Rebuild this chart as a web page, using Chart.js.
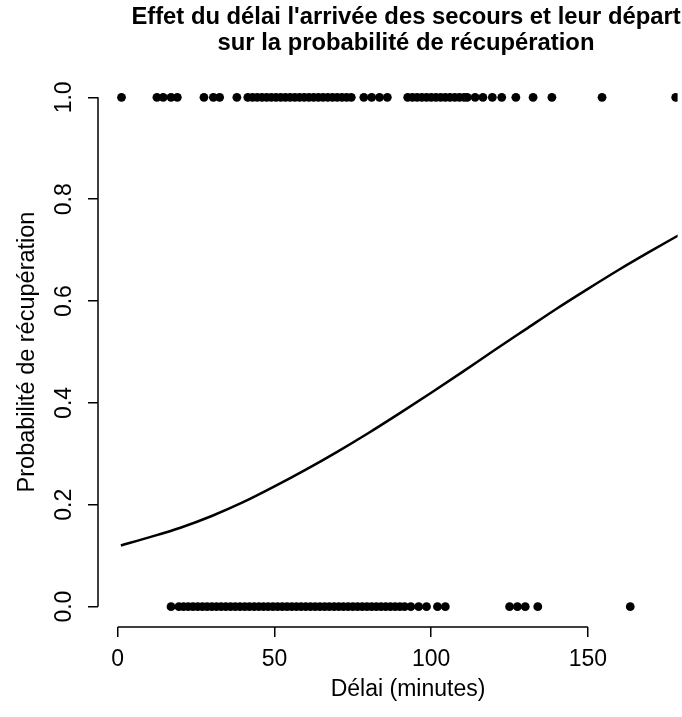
<!DOCTYPE html>
<html>
<head>
<meta charset="utf-8">
<script src="https://cdn.jsdelivr.net/npm/chart.js@4.4.0/dist/chart.umd.min.js"></script>
<style>
  html, body { margin: 0; padding: 0; background: #fff; overflow: hidden; }
  #wrap { width: 682px; height: 717px; }
</style>
</head>
<body>
<div id="wrap"><canvas id="myChart"></canvas></div>
<script>
// delays (minutes) of the cases with recovery (y = 1)
const recoveredX = [1.2, 12.5, 14.5, 17, 19, 27.5, 30.5, 32.5, 38, 41.5, 43, 44.5, 46, 47.5, 49, 50.5,
    52, 53.5, 55, 56.5, 58, 59.5, 61, 62.5, 64, 65.5, 67, 68.5, 70, 71.5, 73, 74.5, 78.5, 81, 83.5, 86,
    92.5, 94, 95.5, 97, 98.5, 100, 101.5, 103, 104.5, 106, 107.5, 109, 110.5, 111.5, 114, 116.5,
    119.5, 122.5, 127, 132.5, 138.5, 154.5, 178];

// delays (minutes) of the cases without recovery (y = 0)
const lostX = [17, 19.5, 21, 22.5, 24, 25.5, 27, 28.5, 30, 31.5, 33, 34.5, 36, 37.5, 39, 40.5, 42,
    43.5, 45, 46.5, 48, 49.5, 51, 52.5, 54, 55.5, 57, 58.5, 60, 61.5, 63, 64.5, 66, 67.5, 69, 70.5,
    72, 73.5, 75, 76.5, 78, 79.5, 81, 82.5, 84, 85.5, 87, 88.5, 90, 91.5, 93.5, 96, 98.5, 102, 104.5,
    125, 127.5, 130, 134, 163.5];

// fitted curve
const curveX = [1, 10, 20, 30, 40, 50, 60, 70, 80, 90, 100, 110, 120, 130, 140, 150, 160, 170, 180];
const curveY = [0.12, 0.136, 0.155, 0.178, 0.205, 0.236, 0.269, 0.304, 0.341, 0.38, 0.42, 0.461,
    0.503, 0.544, 0.585, 0.624, 0.662, 0.698, 0.733];

const xTicks = [0, 50, 100, 150];
const yTicks = [0, 0.2, 0.4, 0.6, 0.8, 1.0];
const yTickLabels = ['0.0', '0.2', '0.4', '0.6', '0.8', '1.0'];

const titleLines = ["Effet du délai l'arrivée des secours et leur départ", "sur la probabilité de récupération"];
const xTitle = 'Délai (minutes)';
const yTitle = 'Probabilité de récupération';

const FONT = '"Liberation Sans", Arial, sans-serif';

// R-like axes, titles and rotated y labels
const rAxes = {
    id: 'rAxes',
    afterDraw(chart) {
        const c = chart.ctx;
        const xs = chart.scales.x;
        const ys = chart.scales.y;
        const area = chart.chartArea;
        c.save();
        c.strokeStyle = '#000';
        c.lineWidth = 1.5;
        c.beginPath();
        c.moveTo(xs.getPixelForValue(xTicks[0]), area.bottom);
        c.lineTo(xs.getPixelForValue(xTicks[xTicks.length - 1]), area.bottom);
        c.moveTo(area.left, ys.getPixelForValue(yTicks[0]));
        c.lineTo(area.left, ys.getPixelForValue(yTicks[yTicks.length - 1]));
        c.stroke();

        c.fillStyle = '#000';
        c.textAlign = 'center';
        c.textBaseline = 'middle';
        c.font = '23px ' + FONT;
        for (var i = 0; i < yTicks.length; i++) {
            c.save();
            c.translate(65, ys.getPixelForValue(yTicks[i]));
            c.rotate(-Math.PI / 2);
            c.fillText(yTickLabels[i], 0, 0);
            c.restore();
        }

        c.font = '23.5px ' + FONT;
        c.save();
        c.translate(28, ys.getPixelForValue(0.5));
        c.rotate(-Math.PI / 2);
        c.fillText(yTitle, 0, 0);
        c.restore();

        c.font = '23px ' + FONT;
        c.fillText(xTitle, 408, 690);

        c.font = 'bold 23.8px ' + FONT;
        c.fillText(titleLines[0], 406, 17);
        c.fillText(titleLines[1], 406, 43);
        c.restore();
    }
};

new Chart(document.getElementById('myChart'), {
    type: 'scatter',
    data: {
        datasets: [
            {
                label: 'récupération',
                data: recoveredX.map(x => ({ x: x, y: 1 })),
                pointRadius: 4.4,
                pointBorderWidth: 0,
                pointBackgroundColor: '#000',
                pointHoverRadius: 4.4
            },
            {
                label: 'pas de récupération',
                data: lostX.map(x => ({ x: x, y: 0 })),
                pointRadius: 4.4,
                pointBorderWidth: 0,
                pointBackgroundColor: '#000',
                pointHoverRadius: 4.4
            },
            {
                type: 'line',
                label: 'modèle',
                data: curveX.map((x, i) => ({ x: x, y: curveY[i] })),
                borderColor: '#000',
                borderWidth: 2.5,
                pointRadius: 0,
                cubicInterpolationMode: 'monotone',
                fill: false
            }
        ]
    },
    options: {
        responsive: true,
        maintainAspectRatio: false,
        animation: false,
        events: [],
        layout: { padding: { top: 77, right: 0, left: 0, bottom: 0 } },
        plugins: {
            legend: { display: false },
            title: { display: false },
            tooltip: { enabled: false }
        },
        scales: {
            x: {
                type: 'linear',
                min: -6.3,
                max: 178.6,
                afterBuildTicks: s => { s.ticks = xTicks.map(v => ({ value: v })); },
                afterFit: s => { s.height = 90; },
                grid: { drawOnChartArea: false, drawTicks: true, tickLength: 10, color: '#000', lineWidth: 1.5 },
                border: { display: false },
                ticks: {
                    color: '#000',
                    font: { family: FONT, size: 23 },
                    padding: 9,
                    maxRotation: 0
                }
            },
            y: {
                min: -0.04,
                max: 1.04,
                afterBuildTicks: s => { s.ticks = yTicks.map(v => ({ value: v })); },
                afterFit: s => { s.width = 98; },
                grid: { drawOnChartArea: false, drawTicks: true, tickLength: 10, color: '#000', lineWidth: 1.5 },
                border: { display: false },
                ticks: { display: false }
            }
        }
    },
    plugins: [rAxes]
});
</script>
</body>
</html>
